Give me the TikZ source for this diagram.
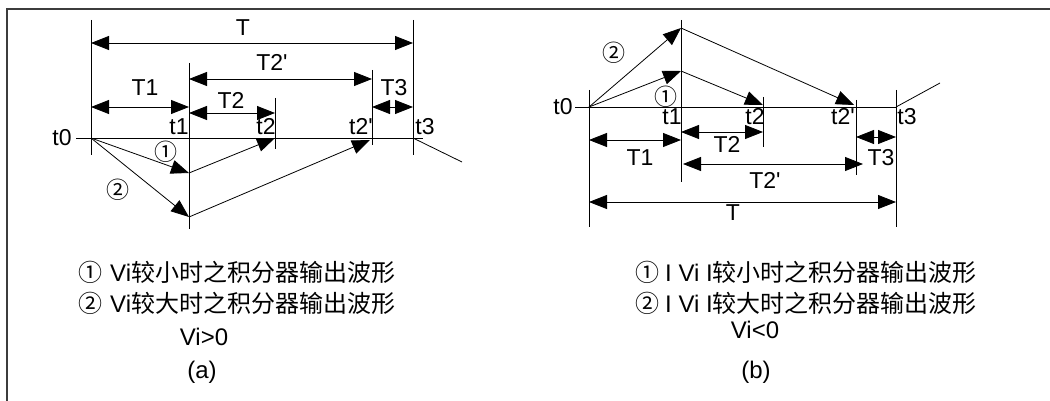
\documentclass[tikz,border=0pt]{standalone}
\usepackage{fontspec}
\setmainfont{Liberation Sans}
\newfontfamily\cjk{Noto Sans CJK SC}
\usetikzlibrary{arrows.meta}
\definecolor{framegray}{RGB}{60,60,60}
\newcommand{\pr}{\textquotesingle}

\tikzset{
  dimline/.style={{Triangle[length=18pt,width=14pt]}-{Triangle[length=18pt,width=14pt]}, line width=0.8pt},
  waveline/.style={-{Triangle[length=18pt,width=14pt]}, line width=0.8pt},
  vline/.style={line width=0.8pt},
  lbl/.style={font=\fontsize{23}{23}\selectfont, inner sep=0pt},
  circ/.style={font=\cjk\fontsize{23}{23}\selectfont, inner sep=0pt},
  note/.style={font=\fontsize{24}{24}\selectfont, inner sep=0pt},
}

\begin{document}
\begin{tikzpicture}[x=1pt, y=-1pt]
  \useasboundingbox (0,0) rectangle (1050,401);
  \draw[framegray, line width=2pt] (7,401) -- (7,9) -- (1050,9);

  % ---- panel (a): Vi>0
  \coordinate (a-t0) at (91,138);
  \coordinate (a-t1) at (189,138);
  \coordinate (a-t3) at (413,138);
  \coordinate (a-s) at (76,138);
  \coordinate (a-e) at (423,138);
  \coordinate (a-tail) at (462,162);
  \coordinate (a-low1) at (189,173);
  \coordinate (a-low2) at (189,217);
  \coordinate (a-top1) at (275,138);
  \coordinate (a-top2) at (370,140);

  \draw[vline] (91,20) -- (91,155);
  \draw[vline] (189,63) -- (189,229);
  \draw[vline] (275,98) -- (275,149);
  \draw[vline] (372,70) -- (372,145);
  \draw[vline] (413,20) -- (413,155);
  \draw[vline] (a-s) -- (a-e);
  \draw[vline] (a-t3) -- (a-tail);

  \draw[dimline] (91,43) -- (413,43);
  \draw[dimline] (189,79) -- (372,79);
  \draw[dimline] (91,107) -- (189,107);
  \draw[dimline] (189,113) -- (275,113);
  \draw[dimline] (372,107) -- (413,107);

  \draw[waveline] (a-t0) -- (a-low1);
  \draw[waveline] (a-low1) -- (a-top1);
  \draw[waveline] (a-t0) -- (a-low2);
  \draw[waveline] (a-low2) -- (a-top2);

  \node[lbl] (a-T) at (243,28) {T};
  \node[lbl] (a-T2p) at (272,62) {T2\pr};
  \node[lbl] (a-T1) at (145,88) {T1};
  \node[lbl] (a-T2) at (231,100) {T2};
  \node[lbl] (a-T3) at (394,88) {T3};
  \node[lbl] (a-l0) at (62,138) {t0};
  \node[lbl] (a-l1) at (179,127) {t1};
  \node[lbl] (a-l2) at (266,127) {t2};
  \node[lbl] (a-l2p) at (361,127) {t2\pr};
  \node[lbl] (a-l3) at (425,127) {t3};
  \node[circ] (a-c1) at (166,152) {①};
  \node[circ] (a-c2) at (118,190) {②};

  \node[note, anchor=west] (a-n1) at (78,272) {{\cjk ①}\hspace{8pt}Vi{\cjk 较小时之积分器输出波形}};
  \node[note, anchor=west] (a-n2) at (78,303) {{\cjk ②}\hspace{8pt}Vi{\cjk 较大时之积分器输出波形}};
  \node[note] (a-vi) at (204,337) {Vi>0};
  \node[note] (a-cap) at (202,372) {(a)};

  % ---- panel (b): Vi<0
  \coordinate (b-t0) at (589,107);
  \coordinate (b-t3) at (896,107);
  \coordinate (b-s) at (575,107);
  \coordinate (b-e) at (897,107);
  \coordinate (b-tail) at (940,83);
  \coordinate (b-high1) at (681,71);
  \coordinate (b-high2) at (681,28);
  \coordinate (b-down1) at (763,105);
  \coordinate (b-down2) at (854,105);

  \draw[vline] (589,90) -- (589,227);
  \draw[vline] (681,20) -- (681,182);
  \draw[vline] (763,97) -- (763,147);
  \draw[vline] (856,100) -- (856,175);
  \draw[vline] (896,90) -- (896,227);
  \draw[vline] (b-s) -- (b-e);
  \draw[vline] (b-t3) -- (b-tail);

  \draw[dimline] (589,140) -- (681,140);
  \draw[dimline] (681,132) -- (763,132);
  \draw[dimline] (683,164) -- (863,164);
  \draw[dimline] (856,137) -- (896,137);
  \draw[dimline] (589,202) -- (896,202);

  \draw[waveline] (b-t0) -- (b-high2);
  \draw[waveline] (b-high2) -- (b-down2);
  \draw[waveline] (b-t0) -- (b-high1);
  \draw[waveline] (b-high1) -- (b-down1);

  \node[lbl] (b-T1) at (640,158) {T1};
  \node[lbl] (b-T2) at (727,144) {T2};
  \node[lbl] (b-T2p) at (765,180) {T2\pr};
  \node[lbl] (b-T3) at (881,158) {T3};
  \node[lbl] (b-T) at (733,213) {T};
  \node[lbl] (b-l0) at (563,107) {t0};
  \node[lbl] (b-l1) at (672,117) {t1};
  \node[lbl] (b-l2) at (755,117) {t2};
  \node[lbl] (b-l2p) at (843,117) {t2\pr};
  \node[lbl] (b-l3) at (907,117) {t3};
  \node[circ] (b-c1) at (666,97) {①};
  \node[circ] (b-c2) at (614,53) {②};

  \node[note, anchor=west] (b-n1) at (635,272) {{\cjk ①}\hspace{6pt}I Vi I{\cjk 较小时之积分器输出波形}};
  \node[note, anchor=west] (b-n2) at (635,303) {{\cjk ②}\hspace{6pt}I Vi I{\cjk 较大时之积分器输出波形}};
  \node[note] (b-vi) at (755,330) {Vi<0};
  \node[note] (b-cap) at (756,372) {(b)};
\end{tikzpicture}
\end{document}
